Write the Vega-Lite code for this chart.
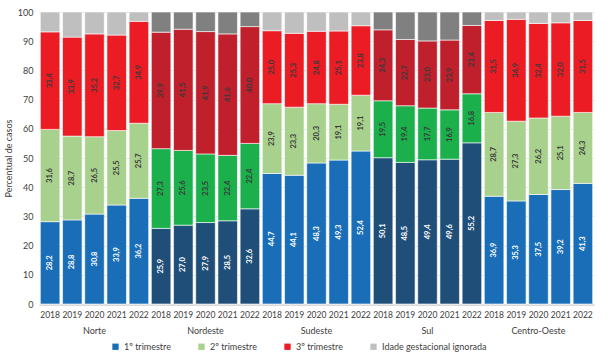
{
  "$schema": "https://vega.github.io/schema/vega-lite/v6.json",
  "background": "white",
  "padding": {"left": 4, "top": 8, "right": 8, "bottom": 2},
  "data": {"values": [
    {"regiao":"Norte","ano":"2018","t1":28.2,"t2":31.6,"t3":33.4,"ig":6.8},
    {"regiao":"Norte","ano":"2019","t1":28.8,"t2":28.7,"t3":33.9,"ig":8.6},
    {"regiao":"Norte","ano":"2020","t1":30.8,"t2":26.5,"t3":35.2,"ig":7.5},
    {"regiao":"Norte","ano":"2021","t1":33.9,"t2":25.5,"t3":32.7,"ig":7.9},
    {"regiao":"Norte","ano":"2022","t1":36.2,"t2":25.7,"t3":34.9,"ig":3.2},
    {"regiao":"Nordeste","ano":"2018","t1":25.9,"t2":27.3,"t3":39.9,"ig":6.9},
    {"regiao":"Nordeste","ano":"2019","t1":27.0,"t2":25.6,"t3":41.5,"ig":5.9},
    {"regiao":"Nordeste","ano":"2020","t1":27.9,"t2":23.5,"t3":41.9,"ig":6.7},
    {"regiao":"Nordeste","ano":"2021","t1":28.5,"t2":22.4,"t3":41.6,"ig":7.5},
    {"regiao":"Nordeste","ano":"2022","t1":32.6,"t2":22.4,"t3":40.0,"ig":5.0},
    {"regiao":"Sudeste","ano":"2018","t1":44.7,"t2":23.9,"t3":25.0,"ig":6.4},
    {"regiao":"Sudeste","ano":"2019","t1":44.1,"t2":23.3,"t3":25.3,"ig":7.3},
    {"regiao":"Sudeste","ano":"2020","t1":48.3,"t2":20.3,"t3":24.8,"ig":6.6},
    {"regiao":"Sudeste","ano":"2021","t1":49.3,"t2":19.1,"t3":25.1,"ig":6.5},
    {"regiao":"Sudeste","ano":"2022","t1":52.4,"t2":19.1,"t3":23.8,"ig":4.7},
    {"regiao":"Sul","ano":"2018","t1":50.1,"t2":19.5,"t3":24.3,"ig":6.1},
    {"regiao":"Sul","ano":"2019","t1":48.5,"t2":19.4,"t3":22.7,"ig":9.4},
    {"regiao":"Sul","ano":"2020","t1":49.4,"t2":17.7,"t3":23.0,"ig":9.9},
    {"regiao":"Sul","ano":"2021","t1":49.6,"t2":16.9,"t3":23.9,"ig":9.6},
    {"regiao":"Sul","ano":"2022","t1":55.2,"t2":16.8,"t3":23.4,"ig":4.6},
    {"regiao":"Centro-Oeste","ano":"2018","t1":36.9,"t2":28.7,"t3":31.5,"ig":2.9},
    {"regiao":"Centro-Oeste","ano":"2019","t1":35.3,"t2":27.3,"t3":34.9,"ig":2.5},
    {"regiao":"Centro-Oeste","ano":"2020","t1":37.5,"t2":26.2,"t3":32.4,"ig":3.9},
    {"regiao":"Centro-Oeste","ano":"2021","t1":39.2,"t2":25.1,"t3":32.0,"ig":3.7},
    {"regiao":"Centro-Oeste","ano":"2022","t1":41.3,"t2":24.3,"t3":31.5,"ig":2.9}
  ]},
  "transform": [
    {"fold": ["t1","t2","t3","ig"], "as": ["t","v"]},
    {"calculate": "datum.t == 't1' ? 0 : (datum.t == 't2' ? 1 : (datum.t == 't3' ? 2 : 3))", "as": "ord"},
    {"calculate": "datum.t == 't1' ? '1º trimestre' : (datum.t == 't2' ? '2º trimestre' : (datum.t == 't3' ? '3º trimestre' : 'Idade gestacional ignorada'))", "as": "trimestre"},
    {"calculate": "(datum.regiao == 'Nordeste' || datum.regiao == 'Sul') ? datum.trimestre + ' ' : datum.trimestre", "as": "cor"},
    {"stack": "v", "groupby": ["regiao","ano"], "sort": [{"field": "ord", "order": "ascending"}], "as": ["y0","y1"]},
    {"calculate": "(datum.y0 + datum.y1) / 2", "as": "ymid"},
    {"calculate": "replace(format(datum.v, '.1f'), '.', ',')", "as": "rotulo"}
  ],
  "facet": {
    "column": {
      "field": "regiao",
      "sort": ["Norte","Nordeste","Sudeste","Sul","Centro-Oeste"],
      "header": {"title": null, "labelOrient": "bottom", "labelFontSize": 9, "labelColor": "#404040", "labelFont": "Lato", "labelPadding": 8}
    }
  },
  "spacing": {"column": 0},
  "spec": {
    "width": 111,
    "height": 292,
    "layer": [
      {
        "mark": {"type": "bar", "stroke": "white", "strokeWidth": 0.6},
        "encoding": {
          "x": {"field": "ano", "type": "nominal", "scale": {"paddingInner": 0.12, "paddingOuter": 0.06},
                "axis": {"title": null, "labelAngle": 0, "labelFontSize": 8.5, "labelColor": "#404040", "labelFont": "Lato", "ticks": false, "domainColor": "#d9d9d9", "labelPadding": 5}},
          "y": {"field": "y0", "type": "quantitative", "scale": {"domain": [0, 100], "nice": false},
                "axis": {"title": "Percentual de casos", "titleFontSize": 9, "titleFontWeight": "normal", "titleColor": "#404040", "titleFont": "Lato", "values": [0,10,20,30,40,50,60,70,80,90,100], "labelOverlap": false, "labelFontSize": 9, "labelColor": "#404040", "labelFont": "Lato", "domain": false, "ticks": false, "gridColor": "#e3e3e3", "labelPadding": 6}},
          "y2": {"field": "y1"},
          "color": {"field": "cor", "type": "nominal",
                    "scale": {"domain": ["1º trimestre","2º trimestre","3º trimestre","Idade gestacional ignorada","1º trimestre ","2º trimestre ","3º trimestre ","Idade gestacional ignorada "],
                              "range": ["#1a6eb7","#a9d18e","#ec1c24","#bfbfbf","#1f4e79","#1bb04b","#c01f2c","#808080"]},
                    "legend": {"title": null, "orient": "bottom", "direction": "horizontal", "values": ["1º trimestre","2º trimestre","3º trimestre","Idade gestacional ignorada"], "symbolType": "square", "symbolSize": 40, "symbolStrokeWidth": 0, "labelFontSize": 9, "labelColor": "#404040", "labelFont": "Lato", "columnPadding": 26, "offset": 6}},
          "order": {"field": "ord", "type": "quantitative"}
        }
      },
      {
        "transform": [{"filter": "datum.t != 'ig'"}],
        "mark": {"type": "text", "angle": 270, "fontSize": 7.5, "fontWeight": "bold", "font": "Lato"},
        "encoding": {
          "x": {"field": "ano", "type": "nominal"},
          "y": {"field": "ymid", "type": "quantitative",
                "axis": {"title": "Percentual de casos", "titleFontSize": 9, "titleFontWeight": "normal", "titleColor": "#404040", "titleFont": "Lato", "values": [0,10,20,30,40,50,60,70,80,90,100], "labelOverlap": false, "labelFontSize": 9, "labelColor": "#404040", "labelFont": "Lato", "domain": false, "ticks": false, "gridColor": "#e3e3e3", "labelPadding": 6}},
          "text": {"field": "rotulo"},
          "color": {"condition": {"test": "datum.t == 't1'", "value": "white"}, "value": "#3a3a3a"}
        }
      }
    ]
  },
  "resolve": {"scale": {"color": "shared"}},
  "config": {"view": {"stroke": null}, "font": "Lato", "legend": {"layout": {"bottom": {"anchor": "middle"}}}}
}
